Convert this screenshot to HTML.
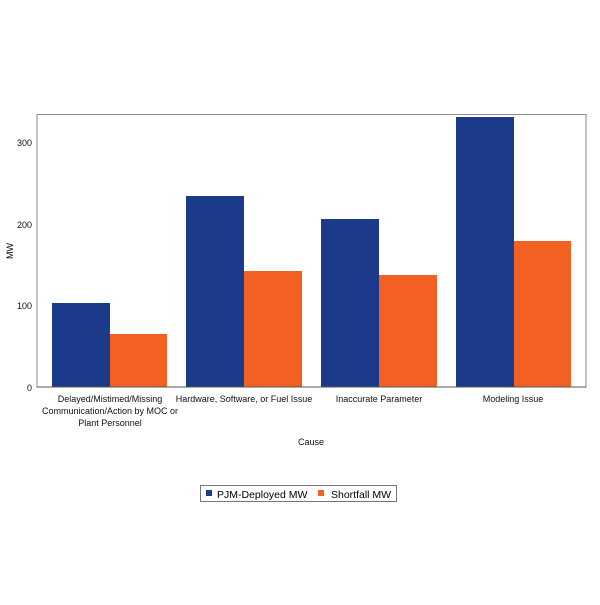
<!DOCTYPE html>
<html><head><style>body{margin:0;background:#fff}</style></head><body>
<svg width="600" height="600" xmlns="http://www.w3.org/2000/svg" font-family="Liberation Sans, Arial, sans-serif">
<rect width="600" height="600" fill="#fff"/>
<rect x="37" y="114.5" width="549" height="272.5" fill="none" stroke="#8a8a8a" stroke-width="1"/>
<g fill="#1b3a8a">
<rect x="52" y="303" width="58" height="84"/>
<rect x="186" y="196" width="58" height="191"/>
<rect x="321" y="219" width="58" height="168"/>
<rect x="456" y="117" width="58" height="270"/>
</g>
<g fill="#f26122">
<rect x="110" y="334" width="57" height="53"/>
<rect x="244" y="271" width="58" height="116"/>
<rect x="379" y="275" width="58" height="112"/>
<rect x="514" y="241" width="57" height="146"/>
</g>
<line x1="37" y1="387" x2="586" y2="387" stroke="#555"/>
<g font-size="9" fill="#111" text-anchor="end">
<text x="32" y="146">300</text>
<text x="32" y="228">200</text>
<text x="32" y="309">100</text>
<text x="32" y="391">0</text>
</g>
<text x="13" y="251" font-size="9" text-anchor="middle" transform="rotate(-90 13 251)">MW</text>
<g font-size="9" fill="#111" text-anchor="middle">
<text x="110" y="402">Delayed/Mistimed/Missing</text>
<text x="110" y="414">Communication/Action by MOC or</text>
<text x="110" y="426">Plant Personnel</text>
<text x="244" y="402">Hardware, Software, or Fuel Issue</text>
<text x="379" y="402">Inaccurate Parameter</text>
<text x="513" y="402">Modeling Issue</text>
<text x="311" y="445">Cause</text>
</g>
<rect x="200.5" y="485.5" width="196" height="16" fill="#fff" stroke="#777"/>
<rect x="206" y="490" width="6" height="6" fill="#1b3a8a"/>
<text x="217" y="498" font-size="10.5">PJM-Deployed MW</text>
<rect x="318" y="490" width="6" height="6" fill="#f26122"/>
<text x="331" y="498" font-size="10.5">Shortfall MW</text>
</svg>
</body></html>
